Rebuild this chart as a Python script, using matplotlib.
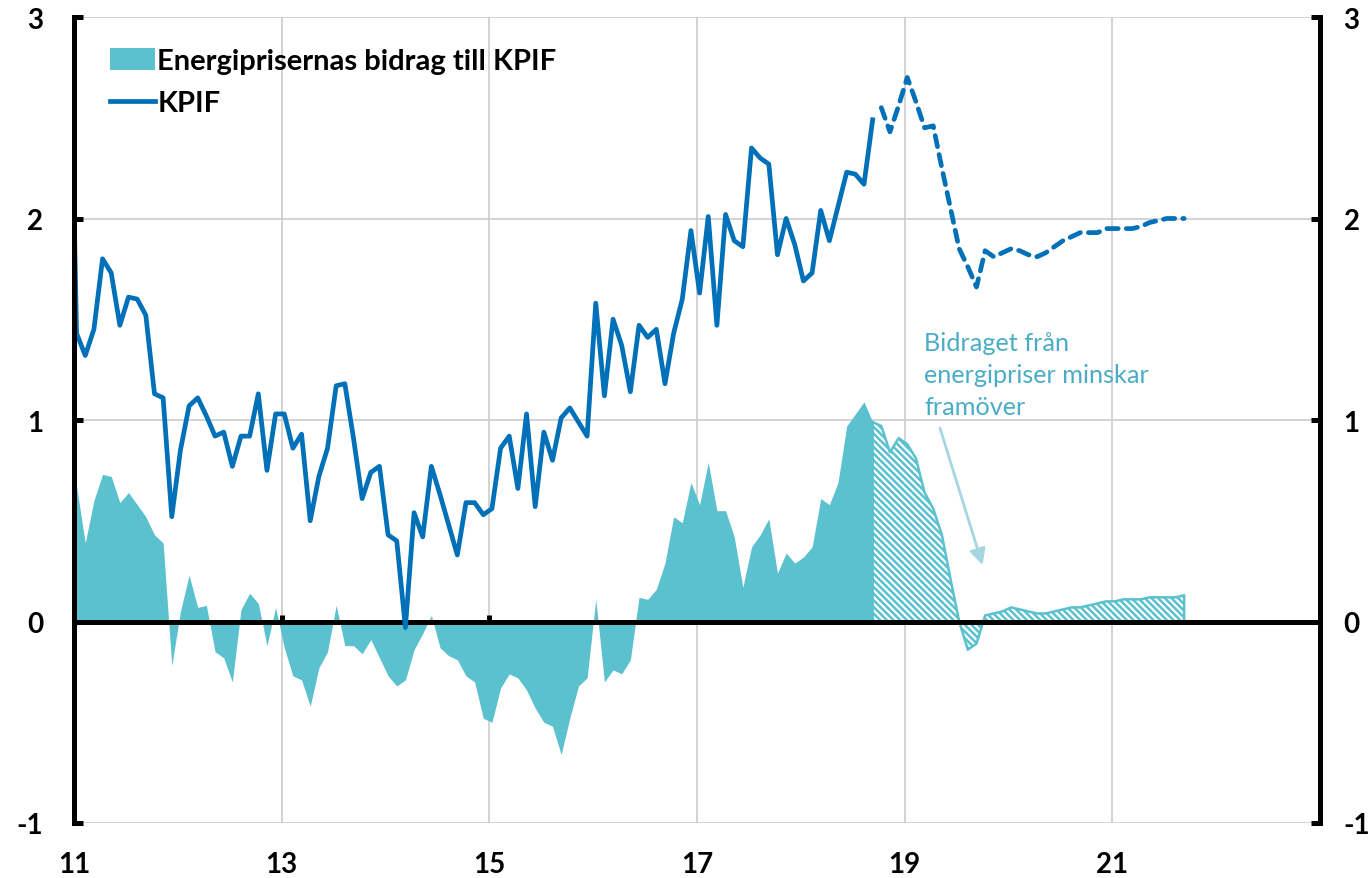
import matplotlib

matplotlib.use("Agg")
import matplotlib.pyplot as plt
import numpy as np
from matplotlib.lines import Line2D
from matplotlib.patches import Patch

# KPIF, annual change in percent, monthly. The series starts Dec 2010 (that point
# falls just left of the axis start and is clipped), outcome up to Sep 2018.
kpif_outcome = [
    3.50,
    1.43, 1.32, 1.45, 1.80, 1.73, 1.47, 1.61, 1.60, 1.52, 1.13, 1.11, 0.52,  # 2011
    0.85, 1.07, 1.11, 1.02, 0.92, 0.94, 0.77, 0.92, 0.92, 1.13, 0.75, 1.03,  # 2012
    1.03, 0.86, 0.93, 0.50, 0.72, 0.86, 1.17, 1.18, 0.91, 0.61, 0.74, 0.77,  # 2013
    0.43, 0.40, -0.03, 0.54, 0.42, 0.77, 0.63, 0.48, 0.33, 0.59, 0.59, 0.53,  # 2014
    0.56, 0.86, 0.92, 0.66, 1.03, 0.57, 0.94, 0.80, 1.01, 1.06, 0.99, 0.92,  # 2015
    1.58, 1.12, 1.50, 1.37, 1.14, 1.47, 1.41, 1.45, 1.18, 1.43, 1.60, 1.94,  # 2016
    1.63, 2.01, 1.47, 2.02, 1.89, 1.86, 2.35, 2.30, 2.27, 1.82, 2.00, 1.87,  # 2017
    1.69, 1.73, 2.04, 1.89, 2.06, 2.23, 2.22, 2.17, 2.49,  # 2018 Jan-Sep
]
# Forecast Oct 2018 - Sep 2021
kpif_forecast = [
    2.55, 2.43, 2.56,
    2.70, 2.58, 2.45, 2.46, 2.25, 2.05, 1.85, 1.76, 1.66, 1.84, 1.81, 1.83,
    1.85, 1.84, 1.82, 1.81, 1.83, 1.86, 1.89, 1.91, 1.93, 1.93, 1.93, 1.95,
    1.95, 1.95, 1.95, 1.96, 1.98, 1.99, 2.00, 2.00, 2.00,
]

# Energy prices' contribution to KPIF, percentage points, same months
energy_outcome = [
    0.94,
    0.67, 0.39, 0.60, 0.73, 0.72, 0.59, 0.64, 0.58, 0.52, 0.43, 0.39, -0.22,
    0.05, 0.23, 0.07, 0.08, -0.15, -0.18, -0.30, 0.06, 0.14, 0.09, -0.12, 0.07,
    -0.13, -0.27, -0.29, -0.42, -0.23, -0.15, 0.08, -0.12, -0.12, -0.16, -0.09, -0.18,
    -0.27, -0.32, -0.29, -0.14, -0.06, 0.03, -0.13, -0.17, -0.19, -0.27, -0.30, -0.48,
    -0.50, -0.33, -0.26, -0.28, -0.34, -0.43, -0.50, -0.52, -0.66, -0.48, -0.32, -0.28,
    0.11, -0.30, -0.24, -0.26, -0.19, 0.12, 0.11, 0.16, 0.29, 0.52, 0.49, 0.69,
    0.58, 0.79, 0.55, 0.55, 0.42, 0.17, 0.37, 0.43, 0.51, 0.24, 0.34, 0.29,
    0.32, 0.37, 0.61, 0.58, 0.69, 0.97, 1.03, 1.09, 0.99,
]
energy_forecast = [
    0.97, 0.84, 0.91,
    0.88, 0.81, 0.64, 0.56, 0.43, 0.21, 0.00, -0.14, -0.11, 0.03, 0.04, 0.05,
    0.07, 0.06, 0.05, 0.04, 0.04, 0.05, 0.06, 0.07, 0.07, 0.08, 0.09, 0.10,
    0.10, 0.11, 0.11, 0.11, 0.12, 0.12, 0.12, 0.12, 0.13,
]

x_ticks = [11, 13, 15, 17, 19, 21]
y_ticks = [-1, 0, 1, 2, 3]
legend_labels = ["Energiprisernas bidrag till KPIF", "KPIF"]
note_text = "Bidraget från\nenergipriser minskar\nframöver"

BLUE = "#0070B8"
CYAN = "#5BC1CE"
NOTE_COLOR = "#4BACC6"
ARROW_COLOR = "#A6D7E0"
GRID = "#C8C8C8"

plt.rcParams["font.family"] = ["Lato", "DejaVu Sans"]
plt.rcParams["hatch.linewidth"] = 1.8
plt.rcParams["axes.unicode_minus"] = False

n_out = len(kpif_outcome)
n_all = n_out + len(kpif_forecast)
# month index -1 = Dec 2010; points sit a little into each month on the date axis
months = np.arange(-1, n_all - 1)
x = 11 + (months + 0.3) / 12.0
kpif = np.array(kpif_outcome + kpif_forecast)
energy = np.array(energy_outcome + energy_forecast)

fig = plt.figure(figsize=(13.71, 8.79), dpi=100)
ax = fig.add_axes([74 / 1371, 55 / 879, 1246 / 1371, 806 / 879])

ax.fill_between(x[:n_out], 0, energy[:n_out], color=CYAN, linewidth=0, zorder=1)
ax.fill_between(x[n_out - 1:], 0, energy[n_out - 1:], facecolor="white", edgecolor=CYAN,
                hatch="\\\\\\\\\\", linewidth=1.8, zorder=1)

ax.plot(x[:n_out], kpif[:n_out], color=BLUE, linewidth=3.4, solid_joinstyle="round", zorder=4)
ax.plot(x[n_out:], kpif[n_out:], color=BLUE, linewidth=3.4, linestyle=(0, (2.4, 1.7)),
        dash_capstyle="round", zorder=4)

ax.set_xlim(11, 23)
ax.set_ylim(-1, 3)
ax.set_xticks(x_ticks)
ax.set_yticks(y_ticks)
ax.set_axisbelow(True)
ax.grid(True, color=GRID, linewidth=1.1)

ax.spines["bottom"].set_position(("data", 0))
ax.spines["bottom"].set_linewidth(3.6)
ax.spines["bottom"].set_zorder(3)
ax.spines["left"].set_linewidth(3.6)
ax.spines["left"].set_zorder(6)
ax.spines["top"].set_visible(False)
ax.spines["right"].set_visible(False)
ax.tick_params(axis="x", direction="in", length=5, width=3.6, labelbottom=False)
ax.tick_params(axis="y", direction="in", length=6.5, width=3.6, pad=22, labelsize=20)
for lab in ax.get_yticklabels():
    lab.set_fontweight("bold")

twin = ax.twinx()
twin.set_ylim(-1, 3)
twin.set_yticks(y_ticks)
twin.tick_params(axis="y", direction="in", length=6.5, width=3.6, pad=17, labelsize=20)
for lab in twin.get_yticklabels():
    lab.set_fontweight("bold")
for side in ["left", "top", "bottom"]:
    twin.spines[side].set_visible(False)
twin.spines["right"].set_linewidth(3.6)

sec = ax.secondary_xaxis("bottom")
sec.set_xticks(x_ticks)
sec.tick_params(length=0, pad=20, labelsize=20)
sec.spines["bottom"].set_visible(False)
for lab in sec.get_xticklabels():
    lab.set_fontweight("bold")

handles = [Patch(facecolor=CYAN, edgecolor="none"), Line2D([], [], color=BLUE, linewidth=3.4)]
ax.legend(handles, legend_labels, loc="upper left", bbox_to_anchor=(0.029, 0.962),
          frameon=False, prop={"weight": "bold", "size": 21}, handlelength=1.54,
          handleheight=0.82, handletextpad=0.08, labelspacing=0.54, borderpad=0,
          borderaxespad=0)

ax.text(19.185, 1.44, note_text, color=NOTE_COLOR, fontsize=18.2, ha="left", va="top",
        linespacing=1.46, zorder=5)
ax.annotate("", xy=(19.75, 0.28), xytext=(19.34, 0.96),
            arrowprops=dict(arrowstyle="-|>", color=ARROW_COLOR, linewidth=2,
                            mutation_scale=24, shrinkA=0, shrinkB=0), zorder=5)

fig.savefig("out.png", dpi=100)
